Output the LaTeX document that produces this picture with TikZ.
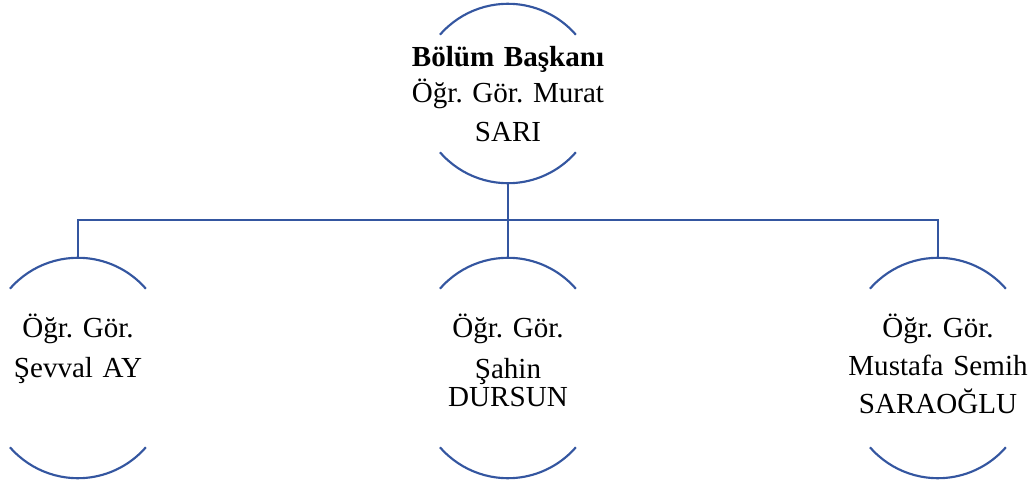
\documentclass[tikz,border=0pt]{standalone}
\usepackage{fontspec}
\setmainfont{Liberation Serif}
\usepackage{tikz}
\usetikzlibrary{positioning}
\definecolor{orgblue}{RGB}{52,86,160}
\frenchspacing

\begin{document}
\begin{tikzpicture}[
        x=0.75pt, y=0.75pt,
        person/.style={
            inner sep=0pt, text width=150pt, align=center,
            font=\fontsize{21.8pt}{28.5pt}\selectfont
        },
        head/.style={person, text height=23.75pt, text depth=64pt},
        staff/.style={person, text height=36pt, text depth=82.5pt},
        arcline/.style={draw=orgblue, line width=1.6pt},
        link/.style={draw=orgblue, line width=1.6pt}
    ]
        \useasboundingbox (0,0) rectangle (1036,483);

        % People
        \node[head] (boss) at (508,389.5) {\textbf{Bölüm Başkanı}\\[-1.25pt] Öğr. Gör. Murat\\[0.75pt] SARI};
        \node[staff] (ay) at (78,115) {Öğr. Gör.\\[1.5pt] Şevval AY};
        \node[staff] (dursun) at (508,115) {Öğr. Gör.\\[2.25pt] Şahin\\[-7.5pt] DURSUN};
        \node[staff] (saraoglu) at (938,115) {Öğr. Gör.\\ Mustafa Semih\\ SARAOĞLU};

        % Arcs above and below each person
        \foreach \n in {boss,ay,dursun,saraoglu}{
            \draw[arcline] ([xshift=-51pt]\n.north) arc[start angle=139, end angle=41, radius=67.5pt];
            \draw[arcline] ([xshift=-51pt]\n.south) arc[start angle=221, end angle=319, radius=67.5pt];
        }

        % Connectors
        \coordinate (bar) at (508,263);
        \draw[link] ([yshift=-23.25pt]boss.south) -- (bar);
        \foreach \c in {ay,dursun,saraoglu}
            \draw[link] (bar) -| ([yshift=23.25pt]\c.north);

    \end{tikzpicture}
\end{document}
